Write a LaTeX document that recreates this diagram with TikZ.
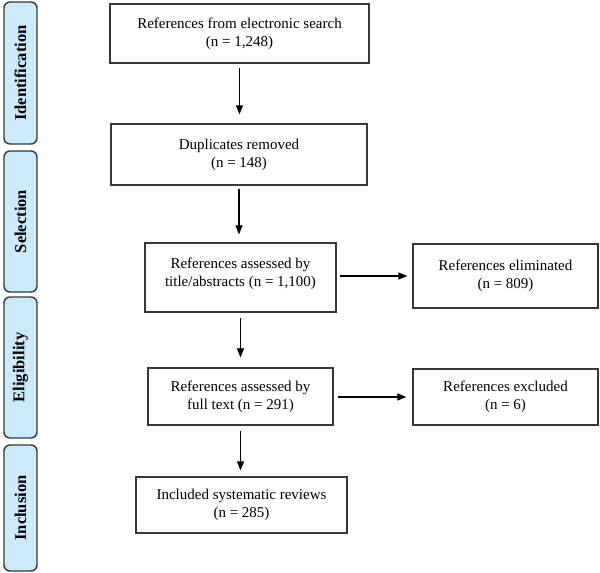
\documentclass[tikz,border=0pt]{standalone}
\usepackage{fontspec}
\setmainfont{Liberation Serif}
\usetikzlibrary{arrows.meta}
\definecolor{phaseblue}{RGB}{205,234,250}
\definecolor{edgegray}{RGB}{55,55,55}
\tikzset{
  stagebox/.style={draw=edgegray, line width=1.2pt, fill=white, align=center,
    inner sep=2pt, font=\fontsize{15}{18}\selectfont},
  phase/.style={draw=edgegray, line width=1.4pt, fill=phaseblue, rounded corners=6pt,
    rotate=90, minimum height=33pt, inner sep=0pt,
    font=\fontsize{16.5}{18}\selectfont\bfseries},
  flow/.style={-{Triangle[length=9pt,width=7pt]}, line width=1.1pt}
}
\begin{document}
\begin{tikzpicture}[x=1pt, y=-1pt]
  \useasboundingbox (0,0) rectangle (600,573);
  % phases on the left
  \node[phase, minimum width=142pt] (ident) at (20.5,73) {Identification};
  \node[phase, minimum width=141pt] (selec) at (20.5,221.5) {Selection};
  \node[phase, minimum width=141pt] (elig) at (20.5,367.5) {Eligibility};
  \node[phase, minimum width=126pt] (incl) at (20.5,508) {Inclusion};
  % main column
  \node[stagebox, minimum width=259pt, minimum height=59pt] (search) at (239.5,33.5)
    {References from electronic search\\(n = 1,248)};
  \node[stagebox, minimum width=256pt, minimum height=61pt] (dupl) at (239,154.5)
    {Duplicates removed\\(n = 148)};
  \node[stagebox, minimum width=191pt, minimum height=69pt] (title) at (240.5,277.5)
    {References assessed by\\title/abstracts (n = 1,100)\\[-8pt]};
  \node[stagebox, minimum width=185pt, minimum height=57pt] (fulltxt) at (240.5,396.5)
    {References assessed by\\full text (n = 291)};
  \node[stagebox, minimum width=211pt, minimum height=56pt] (reviews) at (241.5,505)
    {Included systematic reviews\\(n = 285)};
  % removed on the right
  \node[stagebox, minimum width=185pt, minimum height=64pt] (elim) at (505.5,276)
    {References eliminated\\(n = 809)};
  \node[stagebox, minimum width=185pt, minimum height=56pt] (excl) at (505.5,397)
    {References excluded\\(n = 6)};
  % arrows
  \draw[flow, shorten <=4pt, shorten >=9pt] (search.south) -- (search.south |- dupl.north);
  \draw[flow, shorten <=3pt, shorten >=8pt] (dupl.south) -- (dupl.south |- title.north);
  \draw[flow, shorten <=5pt, shorten >=10pt] (title.south) -- (title.south |- fulltxt.north);
  \draw[flow, shorten <=5pt, shorten >=6pt] (fulltxt.south) -- (fulltxt.south |- reviews.north);
  \draw[flow, shorten <=3pt, shorten >=5pt] (title.east |- elim.west) -- (elim.west);
  \draw[flow, shorten <=4pt, shorten >=6pt] (fulltxt.east |- excl.west) -- (excl.west);
\end{tikzpicture}
\end{document}
